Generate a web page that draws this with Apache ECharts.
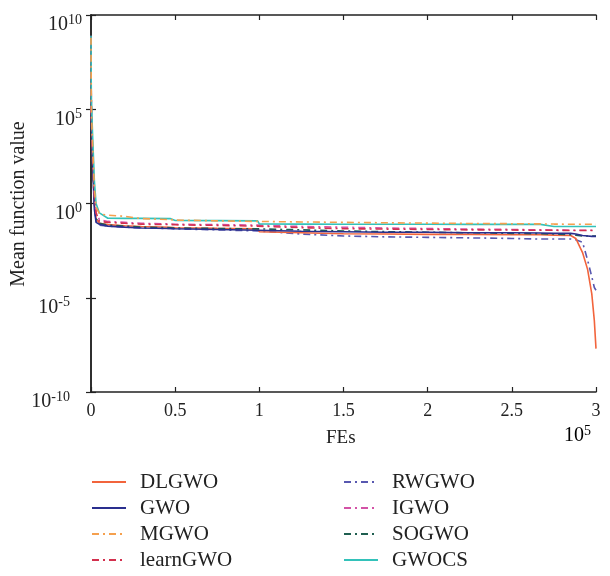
<!DOCTYPE html>
<html><head><meta charset="utf-8">
<script src="https://cdn.jsdelivr.net/npm/echarts@6/dist/echarts.min.js"></script>
<style>html,body{margin:0;padding:0;background:#fff}#c{width:610px;height:576px}</style>
</head><body><div id="c"></div>
<script>
// FEs (x 10^5)
const fes = [0, 0.002, 0.01, 0.02, 0.03, 0.05, 0.1, 0.2, 0.3, 0.47, 0.5, 0.75, 0.99, 1.0, 1.25, 1.5, 1.75, 2.0, 2.25, 2.5, 2.67, 2.75, 2.85, 2.88, 2.92, 2.95, 2.975, 2.99, 3.0];
const DLGWO = [7.9e8, 5.0e4, 200, 1.0, 0.158, 0.089, 0.076, 0.066, 0.060, 0.055, 0.052, 0.048, 0.045, 0.032, 0.028, 0.025, 0.024, 0.023, 0.023, 0.022, 0.022, 0.021, 0.020, 0.014, 2.5e-3, 3.2e-4, 1.6e-5, 6.3e-7, 2.0e-8];
const GWO = [7.9e8, 3.2e4, 100, 0.50, 0.100, 0.079, 0.063, 0.056, 0.050, 0.047, 0.046, 0.042, 0.038, 0.037, 0.034, 0.032, 0.030, 0.030, 0.028, 0.028, 0.027, 0.026, 0.026, 0.024, 0.020, 0.019, 0.018, 0.018, 0.018];
const MGWO = [6.3e8, 1.0e5, 1000, 6.3, 0.63, 0.282, 0.240, 0.209, 0.158, 0.141, 0.132, 0.120, 0.112, 0.107, 0.105, 0.100, 0.095, 0.091, 0.087, 0.085, 0.083, 0.081, 0.079, 0.079, 0.079, 0.079, 0.079, 0.079, 0.079];
const learnGWO = [5.0e8, 6.3e4, 316, 3.16, 0.316, 0.112, 0.100, 0.089, 0.079, 0.076, 0.074, 0.069, 0.063, 0.063, 0.052, 0.046, 0.044, 0.042, 0.040, 0.039, 0.038, 0.038, 0.037, 0.037, 0.037, 0.037, 0.037, 0.037, 0.037];
const RWGWO = [5.0e8, 2.5e4, 100, 0.63, 0.126, 0.071, 0.063, 0.056, 0.050, 0.047, 0.045, 0.040, 0.035, 0.032, 0.024, 0.019, 0.017, 0.016, 0.015, 0.014, 0.013, 0.013, 0.013, 0.012, 8.9e-3, 1.0e-3, 1.3e-4, 3.5e-5, 2.5e-5];
const IGWO = [6.3e8, 7.9e4, 398, 2.51, 0.316, 0.141, 0.112, 0.100, 0.089, 0.083, 0.079, 0.076, 0.071, 0.071, 0.060, 0.055, 0.050, 0.047, 0.044, 0.042, 0.040, 0.039, 0.038, 0.038, 0.038, 0.038, 0.038, 0.038, 0.038];
const SOGWO = [6.3e8, 4.0e4, 158, 1.0, 0.158, 0.089, 0.071, 0.063, 0.056, 0.052, 0.050, 0.047, 0.045, 0.044, 0.040, 0.035, 0.032, 0.030, 0.028, 0.026, 0.025, 0.024, 0.022, 0.021, 0.019, 0.019, 0.019, 0.019, 0.019];
const GWOCS = [7.9e8, 3.2e5, 3200, 15.8, 1.0, 0.316, 0.166, 0.162, 0.162, 0.158, 0.126, 0.123, 0.120, 0.083, 0.081, 0.079, 0.079, 0.079, 0.078, 0.078, 0.078, 0.060, 0.060, 0.060, 0.060, 0.060, 0.060, 0.060, 0.060];
const xTicks = [0, 0.5, 1, 1.5, 2, 2.5, 3];
const yExponents = [-10, -5, 0, 5, 10];

const FONT = '"Liberation Serif", "DejaVu Serif", serif';
const defs = [
  {name: 'DLGWO', data: DLGWO, color: '#F2643C', type: 'solid'},
  {name: 'GWO', data: GWO, color: '#2A2F8E', type: 'solid'},
  {name: 'MGWO', data: MGWO, color: '#F5A04E', type: [7, 4, 2, 4]},
  {name: 'learnGWO', data: learnGWO, color: '#D3304E', type: [7, 4, 2, 4]},
  {name: 'RWGWO', data: RWGWO, color: '#5858B0', type: [7, 4, 2, 4]},
  {name: 'IGWO', data: IGWO, color: '#D352A6', type: [7, 4, 2, 4]},
  {name: 'SOGWO', data: SOGWO, color: '#1F5E50', type: [7, 4, 2, 4]},
  {name: 'GWOCS', data: GWOCS, color: '#33C2BA', type: 'solid'}
];
const drawOrder = ['RWGWO', 'DLGWO', 'SOGWO', 'GWO', 'IGWO', 'learnGWO', 'GWOCS', 'MGWO'];
const series = drawOrder.map(n => {
  const d = defs.find(s => s.name === n);
  return {
    name: d.name, type: 'line', showSymbol: false, symbol: 'none', animation: false,
    color: d.color,
    lineStyle: {color: d.color, width: 1.6, type: d.type},
    data: fes.map((x, i) => [x, d.data[i]])
  };
});
const rich = {
  b: {fontFamily: FONT, fontSize: 20, color: '#222'},
  s: {fontFamily: FONT, fontSize: 14, color: '#222', padding: [0, 0, 10, 0]},
  g: {width: 12}
};
function legendFor(left, names) {
  return {
    orient: 'vertical', left: left, top: 471, height: 120, padding: 0,
    itemWidth: 34, itemHeight: 22, itemGap: 4,
    itemStyle: {opacity: 0},
    textStyle: {fontFamily: FONT, fontSize: 21, lineHeight: 22, color: '#222', padding: [0, 0, 0, 9]},
    data: names
  };
}
const chart = echarts.init(document.getElementById('c'), null, {renderer: 'canvas'});
chart.setOption({
  backgroundColor: '#fff',
  animation: false,
  grid: {left: 91, right: 14, top: 15, bottom: 184, containLabel: false, outerBoundsMode: 'none'},
  legend: [
    legendFor(91, ['DLGWO', 'GWO', 'MGWO', 'learnGWO']),
    legendFor(343, ['RWGWO', 'IGWO', 'SOGWO', 'GWOCS'])
  ],
  xAxis: [{
    type: 'value', min: 0, max: 3, interval: 0.5, position: 'bottom',
    axisLine: {lineStyle: {color: '#222', width: 1.5}},
    axisTick: {inside: true, length: 5, lineStyle: {color: '#222', width: 1.2}},
    axisLabel: {fontFamily: FONT, fontSize: 18, color: '#222', margin: 10,
      formatter: v => xTicks.indexOf(v) >= 0 ? String(v) : ''},
    splitLine: {show: false}
  }, {
    type: 'value', min: 0, max: 3, interval: 0.5, position: 'top',
    axisLine: {lineStyle: {color: '#222', width: 1.5}},
    axisTick: {inside: true, length: 5, lineStyle: {color: '#222', width: 1.2}},
    axisLabel: {show: false}, splitLine: {show: false}
  }],
  yAxis: [{
    type: 'log', logBase: 10, min: 1e-10, max: 1e10, interval: 5, position: 'left',
    axisLine: {show: true, lineStyle: {color: '#222', width: 1.5}},
    axisTick: {inside: true, length: 5, lineStyle: {color: '#222', width: 1.2}},
    axisLabel: {margin: 9, fontFamily: FONT, fontSize: 20, padding: [20, 0, 0, 0], rich: rich,
      formatter: v => {
        const e = Math.round(Math.log10(v));
        if (yExponents.indexOf(e) < 0) return '';
        return '{b|10}{s|' + e + '}' + (e < 0 ? '{g|}' : '');
      }},
    splitLine: {show: false}, minorTick: {show: false}
  }, {
    type: 'log', logBase: 10, min: 1e-10, max: 1e10, interval: 5, position: 'right',
    axisLine: {show: true, lineStyle: {color: '#222', width: 1.5}},
    axisTick: {inside: true, length: 5, lineStyle: {color: '#222', width: 1.2}},
    axisLabel: {show: false}, splitLine: {show: false}
  }],
  graphic: [
    {type: 'text', x: 19, y: 204, rotation: Math.PI / 2,
      style: {text: 'Mean function value', font: '20px ' + FONT, fill: '#222', align: 'center', verticalAlign: 'middle'}},
    {type: 'text', left: 326, top: 429, style: {text: 'FEs', font: '19px ' + FONT, fill: '#222'}},
    {type: 'text', left: 564, top: 424, style: {text: '{b|10}{s|5}', rich: rich}}
  ],
  series: series
});
</script></body></html>
